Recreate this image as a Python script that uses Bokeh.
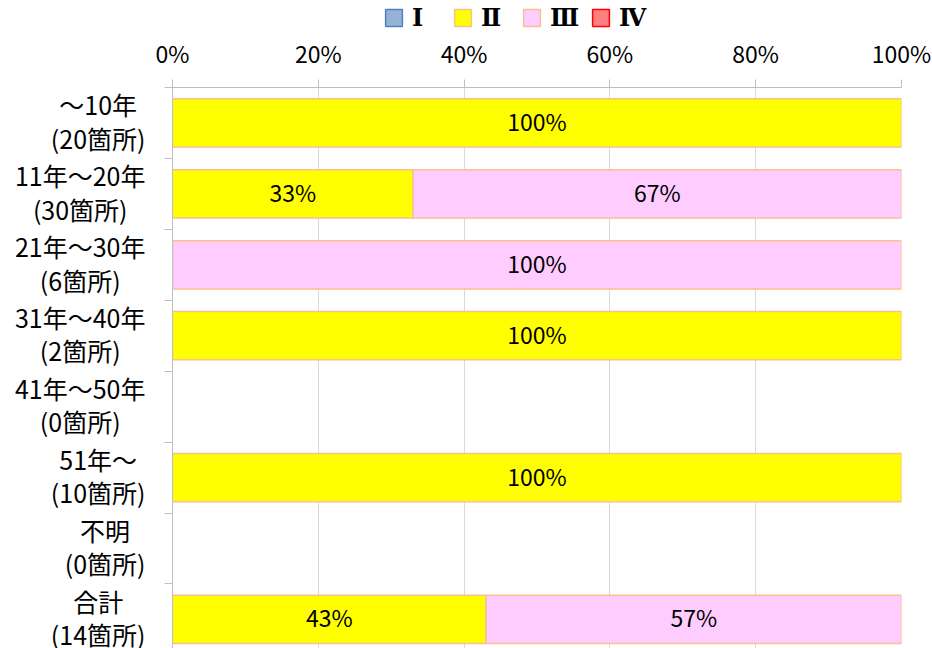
import math
from bokeh.plotting import figure
from bokeh.layouts import column, row
from bokeh.models import (Range1d, FixedTicker, Legend, LegendItem,
                          ColumnDataSource, NumeralTickFormatter)
from bokeh.core.properties import value
from bokeh.embed import file_html
from bokeh.resources import INLINE

# ---- data ----
cat_line1 = ["～10年", "11年～20年", "21年～30年", "31年～40年",
             "41年～50年", "51年～", "不明", "合計"]
cat_line2 = ["(20箇所)", "(30箇所)", "(6箇所)", "(2箇所)",
             "(0箇所)", "(10箇所)", "(0箇所)", "(14箇所)"]
series_names = ["Ⅰ", "Ⅱ", "Ⅲ", "Ⅳ"]
s1 = [0, 0, 0, 0, 0, 0, 0, 0]
s2 = [100, 33, 0, 100, 0, 100, 0, 43]
s3 = [0, 67, 100, 0, 0, 0, 0, 57]
s4 = [0, 0, 0, 0, 0, 0, 0, 0]
x_ticks = [0, 0.2, 0.4, 0.6, 0.8, 1.0]

fills = ["#95B3D7", "#FFFF00", "#FFCCFF", "#FF8080"]
lines = ["#4F81BD", "#FAC090", "#FAC090", "#FF0000"]

FONT = "Noto Sans CJK JP"
n = len(cat_line1)
LEG_H = 32
MAIN_H = 616
LAB_W = 148
MAIN_W = 784
TOP = 55

p = figure(width=MAIN_W, height=MAIN_H,
           x_range=Range1d(0, 1), y_range=Range1d(7.91, 0),
           x_axis_location="above", output_backend="svg",
           toolbar_location=None,
           min_border_left=24, min_border_right=31,
           min_border_bottom=0, min_border_top=TOP)
p.outline_line_color = None

# x axis (top)
p.xaxis.ticker = FixedTicker(ticks=x_ticks)
p.xaxis.formatter = NumeralTickFormatter(format="0%")
p.xaxis.major_tick_out = 8
p.xaxis.major_tick_in = 0
p.xaxis.minor_tick_line_color = None
p.xaxis.axis_line_color = "#BFBFBF"
p.xaxis.major_tick_line_color = "#BFBFBF"
p.xaxis.major_label_text_font = FONT
p.xaxis.major_label_text_font_size = "23px"
p.xaxis.major_label_text_color = "#000000"
p.xaxis.major_label_standoff = 10

# y axis: small ticks at category boundaries, no labels
p.yaxis.ticker = FixedTicker(ticks=list(range(n + 1)))
p.yaxis.major_tick_out = 8
p.yaxis.major_tick_in = 0
p.yaxis.minor_tick_line_color = None
p.yaxis.major_tick_line_color = "#BFBFBF"
p.yaxis.axis_line_color = "#BFBFBF"
p.yaxis.major_label_text_font_size = "0px"
p.yaxis.major_label_standoff = 0

p.xgrid.ticker = FixedTicker(ticks=x_ticks)
p.xgrid.grid_line_color = "#D9D9D9"
p.ygrid.visible = False

# stacked bars (NaN where a segment is empty, so nothing is drawn there)
all_series = [s1, s2, s3, s4]
cum = [0.0] * n
lab_x, lab_y, lab_t = [], [], []
for vals, fc, lc in zip(all_series, fills, lines):
    ys, lefts, rights = [], [], []
    for i, v in enumerate(vals):
        ys.append(i + 0.5)
        if v > 0:
            lefts.append(cum[i] / 100)
            rights.append((cum[i] + v) / 100)
            lab_x.append((cum[i] + v / 2) / 100)
            lab_y.append(i + 0.5)
            lab_t.append(f"{v}%")
        else:
            lefts.append(math.nan)
            rights.append(math.nan)
        cum[i] += v
    src = ColumnDataSource(dict(y=ys, left=lefts, right=rights))
    p.hbar(y="y", left="left", right="right", height=0.68, source=src,
           fill_color=fc, line_color=lc, line_width=1.5)

p.text(x=lab_x, y=lab_y, text=lab_t, text_font=value(FONT),
       text_font_size="23px", text_align="center", text_baseline="middle",
       y_offset=-2, text_color="#000000")

# category labels in a strip that shares the y range:
# each two-line block is right-aligned to the axis, lines centred in it
lab = figure(width=LAB_W, height=MAIN_H, x_range=Range1d(0, LAB_W),
             y_range=p.y_range, output_backend="svg", toolbar_location=None,
             min_border_left=0, min_border_right=0,
             min_border_bottom=0, min_border_top=TOP)
lab.axis.visible = False
lab.grid.visible = False
lab.outline_line_color = None
centres = [i + 0.5 for i in range(n)]
cat_text = [f"{a}\n{b}" for a, b in zip(cat_line1, cat_line2)]
lab.text(x=[145] * n, y=centres, text=cat_text, anchor="center_right",
         text_font=value(FONT), text_font_size="25px",
         text_align="center", text_baseline="middle", y_offset=-2,
         text_line_height=0.93, text_color="#000000")

# legend strip on top
lf = figure(width=LAB_W + MAIN_W, height=LEG_H, x_range=Range1d(0, 1),
            y_range=Range1d(0, 1), output_backend="svg",
            toolbar_location=None, min_border=0)
lf.axis.visible = False
lf.grid.visible = False
lf.outline_line_color = None
key_renderers = []
for fc, lc in zip(fills, lines):
    key_renderers.append(lf.hbar(y=[math.nan], left=[math.nan],
                                 right=[math.nan], height=0.5,
                                 fill_color=fc, line_color=lc,
                                 line_width=1.5))
legend = Legend(items=[LegendItem(label=nm, renderers=[r])
                       for nm, r in zip(series_names, key_renderers)],
                orientation="horizontal", location=(383, 0))
legend.label_text_font = "DejaVu Serif"
legend.label_text_font_size = "24px"
legend.label_text_font_style = "bold"
legend.label_text_color = "#000000"
legend.glyph_width = 21
legend.glyph_height = 21
legend.label_standoff = 8
legend.label_width = 30
legend.spacing = 10
legend.padding = 0
legend.margin = 0
legend.border_line_color = None
legend.background_fill_alpha = 0
lf.add_layout(legend, "center")

layout = column(lf, row(lab, p, spacing=0), spacing=0)
open("out.html", "w").write(file_html(layout, INLINE))
